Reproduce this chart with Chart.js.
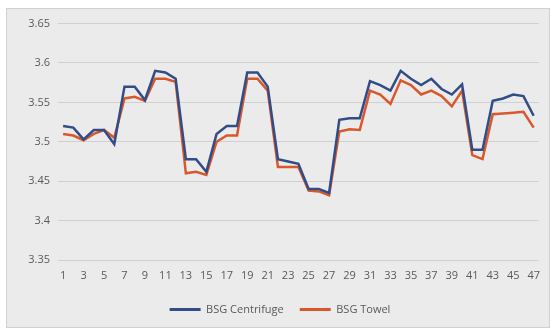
<!DOCTYPE html>
<html>
<head>
<meta charset="utf-8">
<script src="https://cdn.jsdelivr.net/npm/chart.js@4/dist/chart.umd.min.js"></script>
<style>
  html, body { margin: 0; padding: 0; background: #ffffff; }
  #frame {
    position: absolute; left: 6px; top: 8px;
    width: 542px; height: 318px;
    background: #ebebeb; border: 1px solid #d0d0d0;
  }
  #frame canvas { display: block; }
</style>
</head>
<body>
<div id="frame"><canvas id="moistureChart" width="542" height="318"></canvas></div>
<script>
// sample numbers 1..47
var samples = [];
for (let i = 1; i <= 47; i++) {
    samples.push(String(i));
}

var centrifuge = [
    3.520, 3.518, 3.503, 3.515, 3.515, 3.497, 3.570, 3.570, 3.553, 3.590,
    3.588, 3.580, 3.478, 3.478, 3.462, 3.510, 3.520, 3.520, 3.588, 3.588,
    3.570, 3.478, 3.475, 3.472, 3.440, 3.440, 3.435, 3.528, 3.530, 3.530,
    3.577, 3.572, 3.565, 3.590, 3.580, 3.572, 3.580, 3.567, 3.560, 3.573,
    3.490, 3.490, 3.552, 3.555, 3.560, 3.558, 3.533
];

var towel = [
    3.510, 3.508, 3.502, 3.510, 3.515, 3.505, 3.555, 3.557, 3.552, 3.580,
    3.580, 3.576, 3.460, 3.462, 3.458, 3.500, 3.508, 3.508, 3.580, 3.580,
    3.565, 3.468, 3.468, 3.468, 3.438, 3.437, 3.432, 3.513, 3.516, 3.515,
    3.565, 3.560, 3.548, 3.578, 3.572, 3.560, 3.565, 3.558, 3.545, 3.565,
    3.483, 3.478, 3.535, 3.536, 3.537, 3.538, 3.518
];

var yMin = 3.35;
var yMax = 3.65;
var yStep = 0.05;

var tickFont = { family: "'Open Sans', 'Liberation Sans', sans-serif", size: 11 };

var ctx = document.getElementById("moistureChart");
var chart = new Chart(ctx, {
    type: 'line',
    data: {
        labels: samples,
        datasets: [{
                label: "BSG Centrifuge",
                data: centrifuge,
                borderColor: '#314c86',
                backgroundColor: '#314c86',
                borderWidth: 2.5,
                pointRadius: 0,
                tension: 0
            },
            {
                label: "BSG Towel",
                data: towel,
                borderColor: '#d8582c',
                backgroundColor: '#d8582c',
                borderWidth: 2.5,
                pointRadius: 0,
                tension: 0
            }
        ]
    },
    options: {
        responsive: false,
        animation: false,
        layout: { padding: { top: 11, right: 4, bottom: 2, left: 8 } },
        plugins: {
            tooltip: { enabled: false },
            legend: {
                position: 'bottom',
                labels: {
                    boxWidth: 31,
                    boxHeight: 3,
                    padding: 16,
                    color: '#595959',
                    font: tickFont,
                    // thin line swatches instead of outlined boxes
                    generateLabels: function (c) {
                        return c.data.datasets.map(function (ds, i) {
                            return {
                                text: ds.label,
                                fillStyle: ds.borderColor,
                                strokeStyle: ds.borderColor,
                                lineWidth: 0,
                                fontColor: '#595959',
                                hidden: !c.isDatasetVisible(i),
                                datasetIndex: i
                            };
                        });
                    }
                }
            }
        },
        scales: {
            x: {
                offset: true,
                // fixed band height keeps the legend well below the tick row
                afterFit: function (scale) { scale.height = 28; },
                grid: { display: false, drawTicks: false },
                border: { display: false },
                ticks: {
                    autoSkip: false,
                    maxRotation: 0,
                    padding: 9,
                    color: '#595959',
                    font: tickFont,
                    callback: function (val, idx) {
                        return idx % 2 === 0 ? samples[idx] : '';
                    }
                }
            },
            y: {
                min: yMin,
                max: yMax,
                afterFit: function (scale) { scale.width = 43; },
                grid: { color: '#d0d0d0', lineWidth: 1, drawTicks: false },
                border: { display: false },
                ticks: {
                    stepSize: yStep,
                    padding: 8,
                    color: '#595959',
                    font: tickFont,
                    callback: function (v) { return parseFloat(v.toFixed(2)).toString(); }
                }
            }
        }
    }
});
</script>
</body>
</html>
